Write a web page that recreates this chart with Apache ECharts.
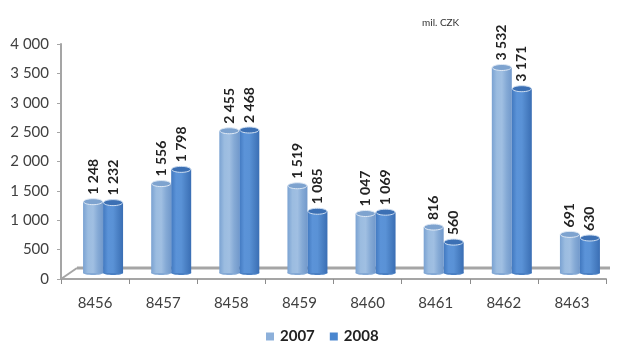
<!DOCTYPE html>
<html>
<head>
<meta charset="utf-8">
<style>html,body{margin:0;padding:0;background:#fff}#chart{width:622px;height:343px}</style>
<script src="https://cdn.jsdelivr.net/npm/echarts@6/dist/echarts.min.js"></script>
</head>
<body>
<div id="chart"></div>
<script>
// Codes on the horizontal axis and yearly amounts in mil. CZK
const categories = ['8456', '8457', '8458', '8459', '8460', '8461', '8462', '8463'];
const values2007 = [1248, 1556, 2455, 1519, 1047, 816, 3532, 691];
const values2008 = [1232, 1798, 2468, 1085, 1069, 560, 3171, 630];
const years = ['2007', '2008'];

// Pseudo-3D depth of the chart floor, in pixels
const FLOOR_DEPTH_X = 16;
const FLOOR_DEPTH_Y = 11;
const BASE_LIFT = 4;
const BAR_WIDTH = 20;

const palettes = [
  { stops: ['#7aa2d2', '#9bbce0', '#a0bfe2', '#84a9d5', '#7299cb'], top: '#7ea3cf', rim: '#dfe9f5', legend: '#8db0da' },
  { stops: ['#4279c0', '#5b93d8', '#5a92d6', '#4a80c4', '#3a6eb4'], top: '#3c70b4', rim: '#cfdff2', legend: '#4a86cf' }
];

const thousands = v => String(v).replace(/\B(?=(\d{3})+$)/g, ' ');

// Draws one cylinder, with the value label turned upright above its cap
function cylinder(seriesIndex) {
  const pal = palettes[seriesIndex];
  return function (params, api) {
    const value = api.value(1);
    const top = api.coord([api.value(0), value]);
    const base = api.coord([api.value(0), 0]);
    const shift = seriesIndex === 0 ? -2 : 18;
    const cx = top[0] + shift;
    const yTop = top[1] - BASE_LIFT;
    const yBase = base[1] - BASE_LIFT;
    const left = cx - BAR_WIDTH / 2;
    const ry = 3;
    const body = new echarts.graphic.LinearGradient(0, 0, 1, 0,
      pal.stops.map((c, i) => ({ offset: i / (pal.stops.length - 1), color: c })));
    return {
      type: 'group',
      children: [
        { type: 'ellipse', shape: { cx: cx, cy: yBase - 2, rx: BAR_WIDTH / 2, ry: 2 }, style: { fill: pal.stops[3] } },
        { type: 'rect', shape: { x: left, y: yTop, width: BAR_WIDTH, height: yBase - yTop - 2 }, style: { fill: body } },
        { type: 'ellipse', shape: { cx: cx, cy: yTop, rx: BAR_WIDTH / 2 - 0.5, ry: ry }, style: { fill: pal.top, stroke: pal.rim, lineWidth: 1 } },
        {
          type: 'text',
          x: cx,
          y: yTop - 7,
          rotation: Math.PI / 2,
          style: {
            text: thousands(value),
            fontFamily: 'Lato',
            fontSize: 14,
            fontWeight: 'bold',
            fill: '#222',
            align: 'left',
            verticalAlign: 'middle'
          }
        }
      ]
    };
  };
}

// Floor of the plot: slanted left edge plus the receding back line
function floor(params, api) {
  const cs = params.coordSys;
  const yAxisFoot = cs.y + cs.height;
  const backY = yAxisFoot - FLOOR_DEPTH_Y;
  const line = (x1, y1, x2, y2, w) => ({
    type: 'line',
    shape: { x1: x1, y1: y1, x2: x2, y2: y2 },
    style: { stroke: '#a5a5a5', lineWidth: w }
  });
  return {
    type: 'group',
    children: [
      line(cs.x, yAxisFoot, cs.x + FLOOR_DEPTH_X, backY, 2),
      line(cs.x + FLOOR_DEPTH_X, backY, cs.x + cs.width + 4, backY, 3)
    ]
  };
}

const chart = echarts.init(document.getElementById('chart'), null, { renderer: 'canvas' });
chart.setOption({
  animation: false,
  backgroundColor: '#fff',
  title: {
    text: 'mil. CZK',
    left: 417,
    top: 13,
    textStyle: { fontFamily: 'Lato', fontSize: 10, fontWeight: 'normal', color: '#333' }
  },
  legend: {
    data: years.map((y, i) => ({ name: y, itemStyle: { color: palettes[i].legend } })),
    left: 261,
    top: 324,
    icon: 'rect',
    itemWidth: 8,
    itemHeight: 8,
    itemGap: 15,
    textStyle: { fontFamily: 'Lato', fontSize: 15, fontWeight: 'bold', color: '#222', padding: [0, 0, 0, 1] }
  },
  grid: { left: 61, right: 16, top: 44, bottom: 64 },
  xAxis: {
    type: 'category',
    data: categories,
    axisLine: { lineStyle: { color: '#a5a5a5', width: 2 } },
    axisTick: { show: true, length: 5, lineStyle: { color: '#8c8c8c', width: 1 } },
    axisLabel: { fontFamily: 'Lato', fontSize: 15, color: '#404040', margin: 17 }
  },
  yAxis: {
    type: 'value',
    min: 0,
    max: 4000,
    interval: 500,
    axisLine: { show: true, lineStyle: { color: '#a5a5a5', width: 2 } },
    axisTick: { show: true, length: 4, lineStyle: { color: '#a5a5a5', width: 1 } },
    splitLine: { show: false },
    axisLabel: { fontFamily: 'Lato', fontSize: 15, color: '#404040', margin: 12, formatter: thousands }
  },
  series: [
    { type: 'custom', name: 'floor', renderItem: floor, data: [[0, 0]], silent: true, z: 1, clip: false },
    {
      type: 'custom', name: years[0], renderItem: cylinder(0), z: 2, clip: false,
      encode: { x: 0, y: 1 },
      itemStyle: { color: palettes[0].legend },
      data: values2007.map((v, i) => [i, v])
    },
    {
      type: 'custom', name: years[1], renderItem: cylinder(1), z: 3, clip: false,
      encode: { x: 0, y: 1 },
      itemStyle: { color: palettes[1].legend },
      data: values2008.map((v, i) => [i, v])
    }
  ]
});
</script>
</body>
</html>
